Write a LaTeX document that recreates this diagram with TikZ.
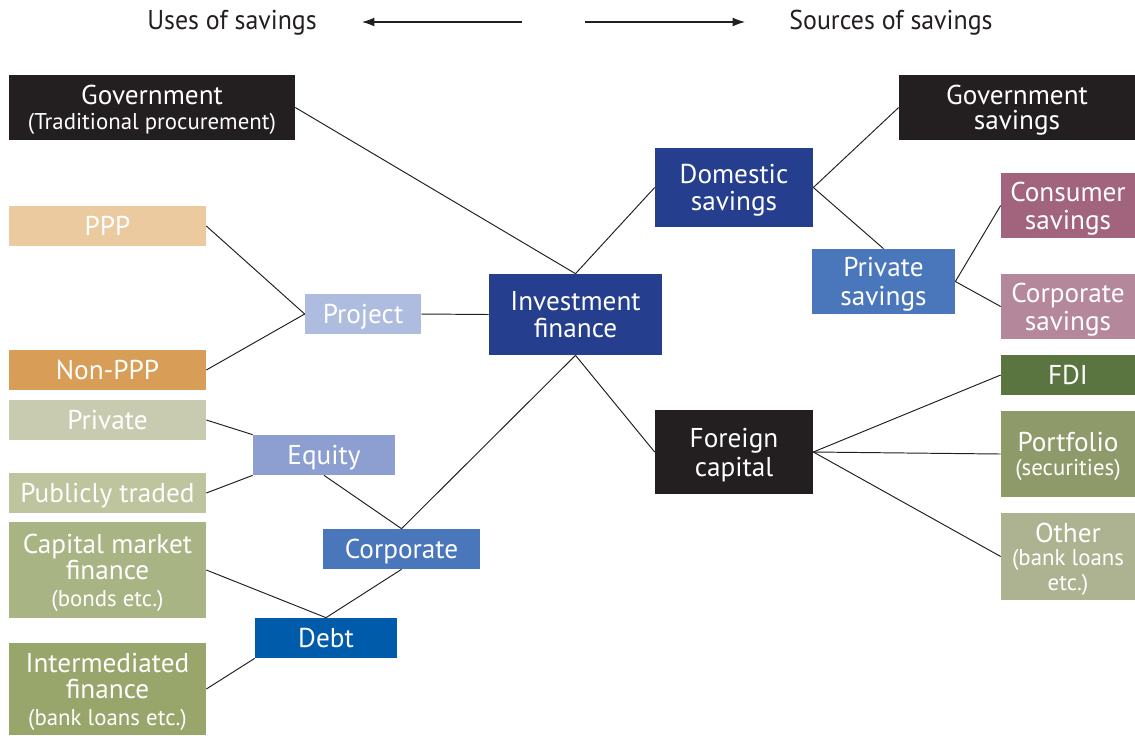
\documentclass[tikz,border=0pt]{standalone}
\usepackage{fontspec}
\setmainfont{PT Sans}
\newfontfamily\hdrfont[FakeStretch=0.95]{PT Sans}
\usepackage{xcolor}
\usetikzlibrary{positioning, arrows.meta}

\definecolor{cBlack}{HTML}{231F20}
\definecolor{cPPP}{HTML}{EBCAA0}
\definecolor{cNonPPP}{HTML}{D89D57}
\definecolor{cProject}{HTML}{AEBCE0}
\definecolor{cNavy}{HTML}{253F8E}
\definecolor{cPriv}{HTML}{C8CBAF}
\definecolor{cPub}{HTML}{BDC49E}
\definecolor{cCapM}{HTML}{A9B485}
\definecolor{cInter}{HTML}{98A56B}
\definecolor{cEquity}{HTML}{8C9FD0}
\definecolor{cMid}{HTML}{4A76BC}
\definecolor{cDebt}{HTML}{005BAA}
\definecolor{cCons}{HTML}{A2647D}
\definecolor{cCorpS}{HTML}{B5879A}
\definecolor{cFDI}{HTML}{5B7540}
\definecolor{cPort}{HTML}{8F9A6B}
\definecolor{cOther}{HTML}{ADB391}

\newcommand{\subtxt}[1]{{\fontsize{13}{13}\selectfont #1}}

\begin{document}
\begin{tikzpicture}[x=0.02cm, y=-0.02cm,
    fbox/.style={rectangle, inner sep=0pt, align=center, text=white, text depth=0pt,
                 font=\fontsize{15.5}{15.5}\selectfont, minimum height=0.8cm},
    conn/.style={draw=cBlack, line width=0.55pt},
    hdr/.style={font=\hdrfont\fontsize{15.5}{16}\selectfont, text=cBlack},
    harr/.style={-{Latex[length=7pt, width=5pt]}, line width=0.6pt, draw=cBlack}]

    \useasboundingbox (0,0) rectangle (1135,735);

    % Header
    \node[hdr] (uses) at (232,23) {Uses of savings};
    \node[hdr] (sources) at (891,23) {Sources of savings};
    \coordinate (lfrom) at (522,22);
    \coordinate (lto) at (362,22);
    \coordinate (rfrom) at (585,22);
    \coordinate (rto) at (745,22);
    \draw[harr] (lfrom) -- (lto);
    \draw[harr] (rfrom) -- (rto);

    % Centre
    \node[fbox, fill=cNavy, minimum width=3.46cm, minimum height=1.62cm] (inv) at (575.5,314.5)
      {Investment\\finance};

    % Uses: government and project
    \node[fbox, fill=cBlack, minimum width=5.72cm, minimum height=1.3cm] (gov) at (152,107.5)
      {Government\\[-1pt]\subtxt{(Traditional procurement)}};
    \node[fbox, fill=cPPP, minimum width=3.94cm] (ppp) at (107.5,226) {PPP};
    \node[fbox, fill=cNonPPP, minimum width=3.94cm] (nonppp) at (107.5,370) {Non-PPP};
    \node[fbox, fill=cProject, minimum width=2.32cm] (proj) at (363,314) {Project};

    % Uses: corporate
    \node[fbox, fill=cPriv, minimum width=3.94cm] (priv) at (107.5,420) {Private};
    \node[fbox, fill=cPub, minimum width=3.94cm] (pub) at (107.5,493) {Publicly traded};
    \node[fbox, fill=cEquity, minimum width=2.84cm] (eq) at (324,455) {Equity};
    \node[fbox, fill=cMid, minimum width=3.14cm] (corp) at (401.5,549) {Corporate};
    \node[fbox, fill=cDebt, minimum width=2.84cm] (debt) at (326,638) {Debt};
    \node[fbox, fill=cCapM, minimum width=3.94cm, minimum height=1.92cm] (capm) at (107.5,570)
      {Capital market\\[-0.5pt]finance\\[-0.5pt]\subtxt{(bonds etc.)}};
    \node[fbox, fill=cInter, minimum width=3.94cm, minimum height=1.84cm] (inter) at (107.5,689)
      {Intermediated\\[-0.5pt]finance\\[-0.5pt]\subtxt{(bank loans etc.)}};

    % Sources: domestic
    \node[fbox, fill=cNavy, minimum width=3.16cm, minimum height=1.58cm] (dom) at (734,187.5)
      {Domestic\\savings};
    \node[fbox, fill=cBlack, minimum width=4.72cm, minimum height=1.3cm] (govs) at (1017,107.5)
      {Government\\[-1pt]savings};
    \node[fbox, fill=cMid, minimum width=2.86cm, minimum height=1.3cm] (privs) at (883.5,281.5)
      {Private\\[1pt]savings};
    \node[fbox, fill=cCons, minimum width=2.68cm, minimum height=1.3cm] (cons) at (1068,205.5)
      {Consumer\\[0.5pt]savings};
    \node[fbox, fill=cCorpS, minimum width=2.68cm, minimum height=1.3cm] (corps) at (1068,306.5)
      {Corporate\\[0.5pt]savings};

    % Sources: foreign
    \node[fbox, fill=cBlack, minimum width=3.16cm, minimum height=1.68cm] (fc) at (734,452)
      {Foreign\\[1pt]capital};
    \node[fbox, fill=cFDI, minimum width=2.68cm] (fdi) at (1068,375) {FDI};
    \node[fbox, fill=cPort, minimum width=2.68cm, minimum height=1.72cm] (port) at (1068,454)
      {Portfolio\\[-2pt]\subtxt{(securities)}};
    \node[fbox, fill=cOther, minimum width=2.68cm, minimum height=1.74cm] (other) at (1068,556.5)
      {Other\\[-2pt]\subtxt{(bank loans}\\[-1.5pt]\subtxt{etc.)}};

    % Connectors
    \draw[conn] (gov.east) -- (inv.north);
    \draw[conn] (dom.west) -- (inv.north);
    \draw[conn] (ppp.east) -- (proj.west);
    \draw[conn] (nonppp.east) -- (proj.west);
    \draw[conn] (proj.east) -- (inv.west);
    \draw[conn] (inv.south) -- (corp.north);
    \draw[conn] (inv.south) -- (fc.west);
    \draw[conn] (priv.east) -- (eq.north west);
    \draw[conn] (pub.east) -- (eq.south west);
    \draw[conn] (eq.south) -- (corp.north);
    \draw[conn] (corp.south) -- (debt.north);
    \draw[conn] (capm.east) -- (debt.north);
    \draw[conn] (inter.east) -- (debt.south west);
    \draw[conn] (dom.east) -- (govs.west);
    \draw[conn] (dom.east) -- (privs.north);
    \draw[conn] (privs.east) -- (cons.west);
    \draw[conn] (privs.east) -- (corps.west);
    \draw[conn] (fc.east) -- (fdi.west);
    \draw[conn] (fc.east) -- (port.west);
    \draw[conn] (fc.east) -- (other.west);

\end{tikzpicture}
\end{document}
